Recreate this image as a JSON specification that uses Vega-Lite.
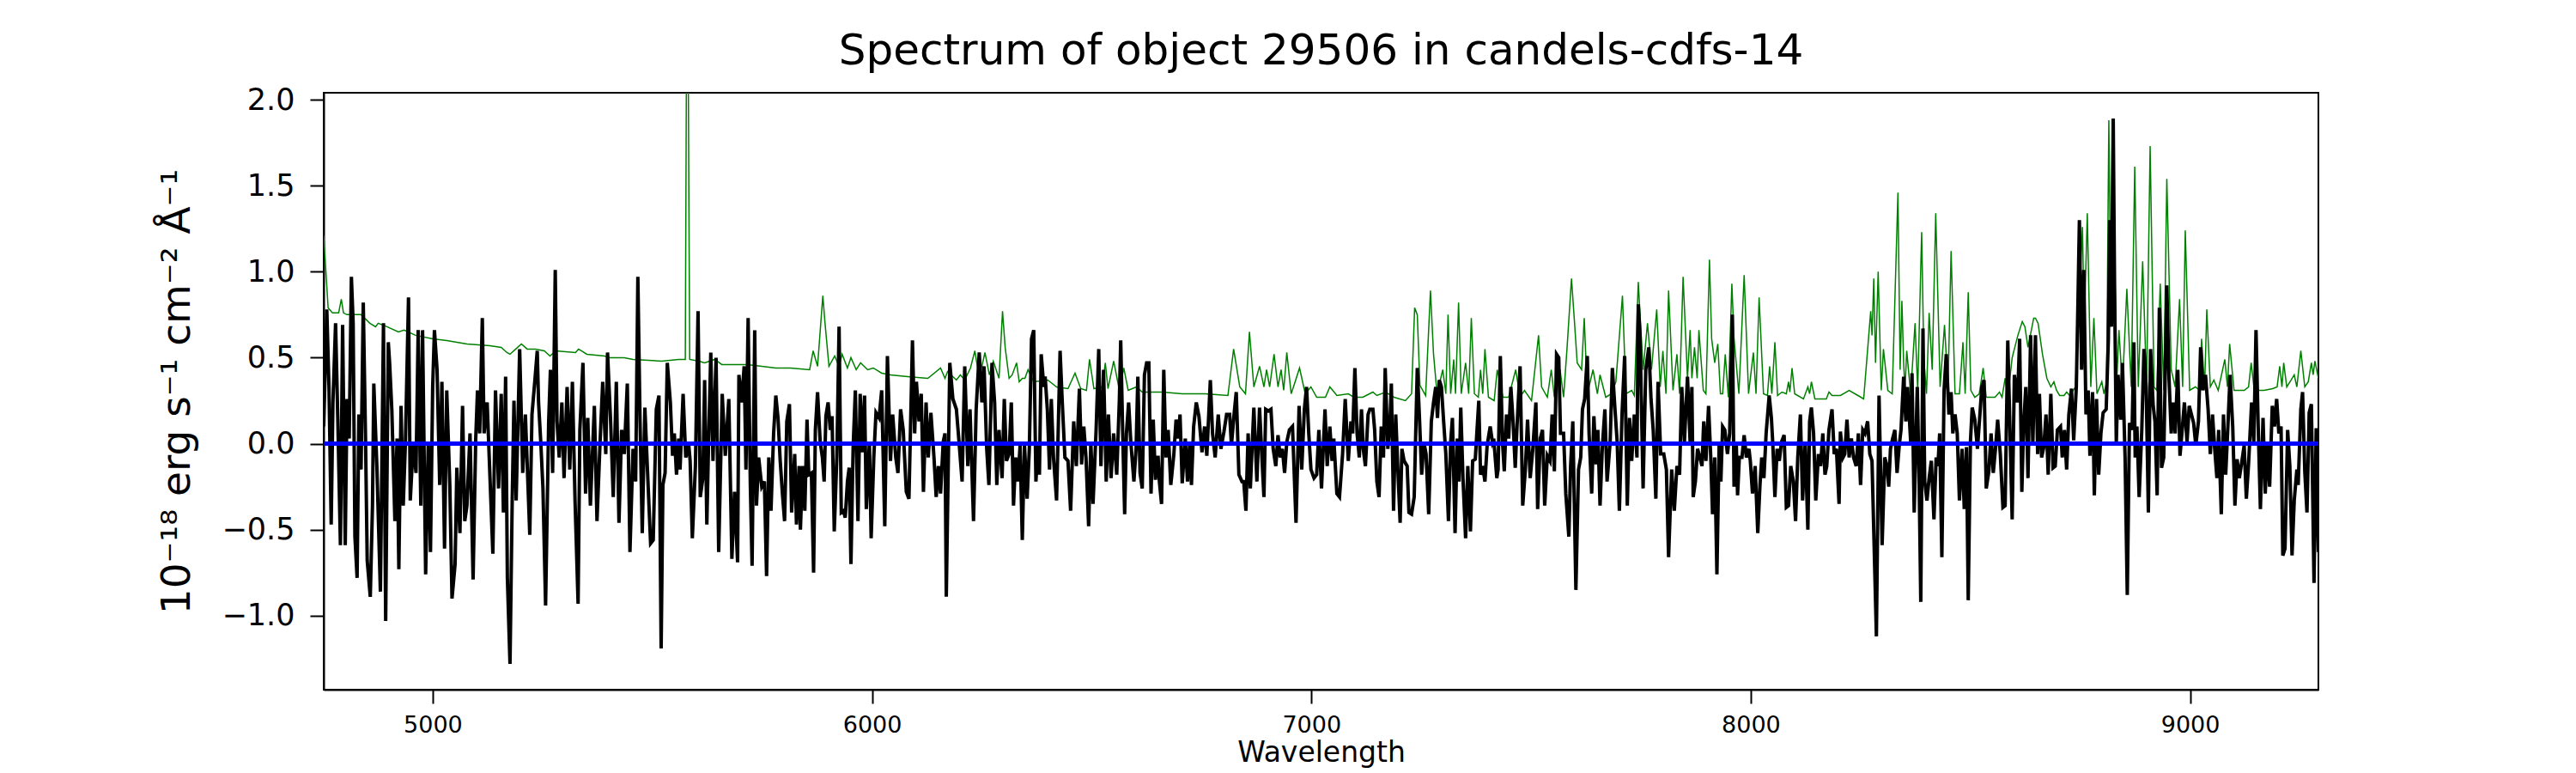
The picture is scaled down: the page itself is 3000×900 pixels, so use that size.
{
  "$schema": "https://vega.github.io/schema/vega-lite/v6.json",
  "description": "Spectrum of object 29506 in candels-cdfs-14: flux (black), sky/error (green), zero model (blue).",
  "width": 2323,
  "height": 695,
  "autosize": {"type": "none"},
  "padding": {"left": 377, "top": 108, "right": 300, "bottom": 97},
  "background": "white",
  "title": {
    "text": "Spectrum of object 29506 in candels-cdfs-14",
    "font": "DejaVu Sans",
    "fontSize": 50,
    "fontWeight": "normal",
    "color": "black",
    "offset": 14
  },
  "datasets": {
    "sky": [
      {"w":4752,"f":1.21},{"w":4762,"f":0.79},{"w":4772,"f":0.76},{"w":4786,"f":0.76},{"w":4792,"f":0.84},{"w":4797,"f":0.76},{"w":4805,"f":0.75},{"w":4837,"f":0.75},{"w":4857,"f":0.70},{"w":4870,"f":0.68},{"w":4876,"f":0.70},{"w":4896,"f":0.68},{"w":4922,"f":0.65},{"w":4935,"f":0.66},{"w":4961,"f":0.63},{"w":5000,"f":0.61},{"w":5032,"f":0.60},{"w":5078,"f":0.58},{"w":5130,"f":0.57},{"w":5156,"f":0.56},{"w":5169,"f":0.53},{"w":5176,"f":0.52},{"w":5189,"f":0.55},{"w":5202,"f":0.58},{"w":5215,"f":0.55},{"w":5234,"f":0.55},{"w":5254,"f":0.54},{"w":5267,"f":0.51},{"w":5280,"f":0.54},{"w":5325,"f":0.53},{"w":5332,"f":0.55},{"w":5351,"f":0.52},{"w":5391,"f":0.51},{"w":5404,"f":0.50},{"w":5436,"f":0.50},{"w":5456,"f":0.49},{"w":5521,"f":0.48},
      {"w":5560,"f":0.49},{"w":5575,"f":0.49},{"w":5578,"f":2.5},{"w":5581,"f":2.5},{"w":5585,"f":0.49},{"w":5606,"f":0.48},{"w":5619,"f":0.47},{"w":5642,"f":0.49},{"w":5658,"f":0.46},{"w":5716,"f":0.46},{"w":5749,"f":0.45},{"w":5781,"f":0.44},{"w":5814,"f":0.44},{"w":5858,"f":0.43},{"w":5866,"f":0.54},{"w":5876,"f":0.45},{"w":5888,"f":0.86},{"w":5893,"f":0.70},{"w":5902,"f":0.45},{"w":5915,"f":0.51},{"w":5925,"f":0.45},{"w":5932,"f":0.52},{"w":5944,"f":0.44},{"w":5952,"f":0.50},{"w":5964,"f":0.43},{"w":5974,"f":0.47},{"w":5990,"f":0.43},{"w":6003,"f":0.44},{"w":6022,"f":0.41},{"w":6042,"f":0.40},{"w":6081,"f":0.39},{"w":6127,"f":0.38},{"w":6156,"f":0.44},{"w":6166,"f":0.38},{"w":6172,"f":0.42},{"w":6192,"f":0.37},{"w":6201,"f":0.40},{"w":6211,"f":0.37},{"w":6224,"f":0.44},{"w":6234,"f":0.54},{"w":6244,"f":0.38},{"w":6257,"f":0.53},{"w":6267,"f":0.40},{"w":6276,"f":0.48},{"w":6289,"f":0.38},{"w":6297,"f":0.77},
      {"w":6303,"f":0.56},{"w":6312,"f":0.38},{"w":6319,"f":0.40},{"w":6329,"f":0.47},{"w":6335,"f":0.36},{"w":6342,"f":0.38},{"w":6348,"f":0.38},{"w":6355,"f":0.43},{"w":6368,"f":0.36},{"w":6400,"f":0.37},{"w":6420,"f":0.33},{"w":6446,"f":0.32},{"w":6462,"f":0.41},{"w":6475,"f":0.32},{"w":6488,"f":0.31},{"w":6495,"f":0.49},{"w":6505,"f":0.32},{"w":6524,"f":0.33},{"w":6531,"f":0.47},{"w":6537,"f":0.32},{"w":6550,"f":0.48},{"w":6563,"f":0.31},{"w":6573,"f":0.44},{"w":6583,"f":0.31},{"w":6602,"f":0.33},{"w":6615,"f":0.30},{"w":6661,"f":0.30},{"w":6706,"f":0.29},{"w":6758,"f":0.29},{"w":6810,"f":0.28},{"w":6823,"f":0.55},{"w":6837,"f":0.33},{"w":6850,"f":0.29},{"w":6859,"f":0.65},{"w":6869,"f":0.33},{"w":6882,"f":0.45},{"w":6892,"f":0.33},{"w":6898,"f":0.43},{"w":6905,"f":0.33},{"w":6915,"f":0.52},{"w":6924,"f":0.33},{"w":6931,"f":0.43},{"w":6937,"f":0.31},{"w":6944,"f":0.53},{"w":6954,"f":0.29},{"w":6963,"f":0.36},{"w":6973,"f":0.44},{"w":6986,"f":0.29},{"w":6999,"f":0.33},{"w":7012,"f":0.27},{"w":7032,"f":0.27},{"w":7042,"f":0.33},{"w":7058,"f":0.28},{"w":7084,"f":0.29},
      {"w":7097,"f":0.27},{"w":7117,"f":0.27},{"w":7140,"f":0.30},{"w":7149,"f":0.28},{"w":7169,"f":0.30},{"w":7188,"f":0.27},{"w":7214,"f":0.25},{"w":7228,"f":0.29},{"w":7235,"f":0.79},{"w":7241,"f":0.75},{"w":7247,"f":0.34},{"w":7260,"f":0.28},{"w":7271,"f":0.89},{"w":7278,"f":0.52},{"w":7286,"f":0.29},{"w":7299,"f":0.43},{"w":7306,"f":0.29},{"w":7311,"f":0.75},{"w":7317,"f":0.29},{"w":7324,"f":0.49},{"w":7328,"f":0.29},{"w":7335,"f":0.82},{"w":7341,"f":0.29},{"w":7351,"f":0.47},{"w":7358,"f":0.29},{"w":7364,"f":0.73},{"w":7371,"f":0.29},{"w":7380,"f":0.27},{"w":7385,"f":0.43},{"w":7390,"f":0.29},{"w":7395,"f":0.55},{"w":7403,"f":0.27},{"w":7416,"f":0.25},{"w":7423,"f":0.43},{"w":7436,"f":0.27},{"w":7449,"f":0.27},{"w":7465,"f":0.43},{"w":7475,"f":0.27},{"w":7485,"f":0.31},{"w":7501,"f":0.25},{"w":7517,"f":0.63},{"w":7524,"f":0.33},{"w":7537,"f":0.27},{"w":7546,"f":0.43},{"w":7553,"f":0.27},{"w":7566,"f":0.43},{"w":7574,"f":0.27},{"w":7582,"f":0.56},{"w":7592,"f":0.96},{"w":7599,"f":0.70},{"w":7605,"f":0.47},{"w":7615,"f":0.43},{"w":7621,"f":0.73},{"w":7628,"f":0.29},{"w":7641,"f":0.43},{"w":7651,"f":0.29},{"w":7657,"f":0.40},{"w":7670,"f":0.27},{"w":7683,"f":0.29},{"w":7693,"f":0.36},{"w":7708,"f":0.86},{"w":7716,"f":0.29},{"w":7729,"f":0.31},{"w":7735,"f":0.28},{"w":7744,"f":0.94},{"w":7755,"f":0.43},{"w":7765,"f":0.70},{"w":7774,"f":0.43},{"w":7786,"f":0.78},{"w":7794,"f":0.33},{"w":7800,"f":0.54},{"w":7807,"f":0.29},{"w":7813,"f":0.89},{"w":7823,"f":0.31},{"w":7832,"f":0.52},{"w":7838,"f":0.29},{"w":7846,"f":0.97},{"w":7856,"f":0.38},{"w":7862,"f":0.66},
      {"w":7866,"f":0.38},{"w":7872,"f":0.56},{"w":7878,"f":0.38},{"w":7882,"f":0.66},{"w":7892,"f":0.31},{"w":7898,"f":0.29},{"w":7906,"f":1.07},{"w":7911,"f":0.61},{"w":7918,"f":0.47},{"w":7925,"f":0.58},{"w":7931,"f":0.29},{"w":7936,"f":0.29},{"w":7942,"f":0.52},{"w":7949,"f":0.27},{"w":7957,"f":0.93},{"w":7962,"f":0.61},{"w":7973,"f":0.29},{"w":7985,"f":0.98},{"w":7995,"f":0.29},{"w":8006,"f":0.53},{"w":8012,"f":0.29},{"w":8019,"f":0.85},{"w":8029,"f":0.29},{"w":8038,"f":0.28},{"w":8043,"f":0.45},{"w":8048,"f":0.29},{"w":8055,"f":0.59},{"w":8061,"f":0.28},{"w":8071,"f":0.30},{"w":8081,"f":0.29},{"w":8086,"f":0.36},{"w":8089,"f":0.30},{"w":8094,"f":0.44},{"w":8100,"f":0.29},{"w":8120,"f":0.26},{"w":8130,"f":0.33},{"w":8134,"f":0.29},{"w":8138,"f":0.36},{"w":8146,"f":0.26},{"w":8172,"f":0.26},{"w":8178,"f":0.30},{"w":8185,"f":0.28},{"w":8204,"f":0.28},{"w":8224,"f":0.31},{"w":8244,"f":0.28},{"w":8257,"f":0.26},{"w":8273,"f":0.77},{"w":8276,"f":0.63},{"w":8280,"f":0.96},{"w":8284,"f":0.47},{"w":8290,"f":1.00},{"w":8297,"f":0.31},{"w":8302,"f":0.55},{"w":8312,"f":0.31},{"w":8322,"f":0.29},{"w":8335,"f":1.46},{"w":8340,"f":0.43},{"w":8344,"f":0.83},{"w":8348,"f":0.47},{"w":8351,"f":0.31},{"w":8355,"f":0.54},{"w":8364,"f":0.29},{"w":8374,"f":0.70},{"w":8380,"f":0.31},{"w":8389,"f":1.23},{"w":8394,"f":0.49},{"w":8400,"f":0.29},{"w":8406,"f":0.76},{"w":8413,"f":0.43},{"w":8421,"f":1.34},{"w":8431,"f":0.33},{"w":8441,"f":0.69},{"w":8449,"f":0.33},{"w":8456,"f":1.12},{"w":8465,"f":0.29},{"w":8475,"f":0.29},{"w":8483,"f":0.59},{"w":8488,"f":0.29},{"w":8495,"f":0.88},{"w":8501,"f":0.31},{"w":8510,"f":0.27},{"w":8520,"f":0.29},{"w":8529,"f":0.44},{"w":8536,"f":0.27},{"w":8556,"f":0.27},{"w":8566,"f":0.30},{"w":8572,"f":0.27},{"w":8579,"f":0.38},{"w":8585,"f":0.27},{"w":8595,"f":0.50},{"w":8608,"f":0.63},{"w":8618,"f":0.71},{"w":8624,"f":0.68},{"w":8631,"f":0.56},{"w":8644,"f":0.73},
      {"w":8648,"f":0.73},{"w":8654,"f":0.70},{"w":8664,"f":0.52},{"w":8674,"f":0.38},{"w":8683,"f":0.33},{"w":8690,"f":0.36},{"w":8696,"f":0.31},{"w":8703,"f":0.28},{"w":8713,"f":0.28},{"w":8719,"f":0.30},{"w":8726,"f":0.28},{"w":8739,"f":0.33},{"w":8755,"f":1.26},{"w":8759,"f":0.66},{"w":8766,"f":1.34},{"w":8774,"f":0.33},{"w":8781,"f":0.73},{"w":8788,"f":0.29},{"w":8799,"f":0.36},{"w":8804,"f":0.29},{"w":8810,"f":0.36},{"w":8815,"f":1.88},{"w":8819,"f":0.87},{"w":8823,"f":1.88},{"w":8833,"f":0.36},{"w":8838,"f":0.66},{"w":8846,"f":0.33},{"w":8856,"f":0.90},{"w":8866,"f":0.33},{"w":8874,"f":1.61},{"w":8882,"f":0.33},{"w":8892,"f":1.06},{"w":8901,"f":0.33},{"w":8909,"f":1.73},{"w":8918,"f":0.33},{"w":8924,"f":0.31},{"w":8932,"f":0.93},{"w":8940,"f":0.31},{"w":8947,"f":1.54},{"w":8957,"f":0.43},{"w":8966,"f":0.33},{"w":8976,"f":0.84},{"w":8983,"f":0.33},{"w":8989,"f":1.24},{"w":8999,"f":0.31},{"w":9012,"f":0.33},{"w":9022,"f":0.31},{"w":9026,"f":0.61},{"w":9033,"f":0.33},{"w":9038,"f":0.78},{"w":9046,"f":0.33},{"w":9054,"f":0.37},{"w":9064,"f":0.31},{"w":9079,"f":0.49},{"w":9085,"f":0.33},{"w":9090,"f":0.58},{"w":9100,"f":0.31},{"w":9123,"f":0.31},{"w":9133,"f":0.33},{"w":9139,"f":0.47},{"w":9146,"f":0.31},{"w":9168,"f":0.31},{"w":9188,"f":0.32},{"w":9198,"f":0.33},{"w":9204,"f":0.45},{"w":9209,"f":0.33},{"w":9213,"f":0.47},{"w":9220,"f":0.33},{"w":9230,"f":0.37},{"w":9237,"f":0.40},{"w":9243,"f":0.33},{"w":9252,"f":0.54},{"w":9261,"f":0.33},{"w":9269,"f":0.36},{"w":9276,"f":0.47},{"w":9280,"f":0.40},{"w":9284,"f":0.48},{"w":9292,"f":0.38}
    ],
    "flux": [
      {"w":4752,"f":0.10},{"w":4759,"f":0.78},{"w":4764,"f":0.33},{"w":4769,"f":-0.47},{"w":4773,"f":0.24},{"w":4779,"f":0.70},{"w":4784,"f":0.15},{"w":4790,"f":-0.59},{"w":4795,"f":0.69},{"w":4801,"f":-0.59},{"w":4805,"f":0.26},{"w":4810,"f":0.03},{"w":4815,"f":0.97},{"w":4819,"f":0.70},{"w":4823,"f":-0.54},{"w":4828,"f":-0.78},{"w":4832,"f":0.17},{"w":4837,"f":-0.15},{"w":4842,"f":0.82},{"w":4847,"f":0.06},{"w":4851,"f":-0.68},{"w":4858,"f":-0.89},{"w":4863,"f":-0.36},{"w":4866,"f":0.35},{"w":4873,"f":-0.13},{"w":4881,"f":-0.86},{"w":4888,"f":0.70},{"w":4893,"f":-1.03},{"w":4899,"f":0.59},{"w":4902,"f":0.47},{"w":4907,"f":0.20},{"w":4914,"f":-0.45},{"w":4919,"f":0.03},{"w":4923,"f":-0.73},{"w":4928,"f":0.22},{"w":4933,"f":-0.36},{"w":4938,"f":0.01},{"w":4945,"f":0.85},{"w":4949,"f":-0.33},{"w":4956,"f":0.01},{"w":4962,"f":-0.17},{"w":4967,"f":0.66},{"w":4973,"f":-0.36},{"w":4977,"f":0.66},{"w":4984,"f":-0.76},{"w":4990,"f":0.01},{"w":4995,"f":-0.63},{"w":5000,"f":0.33},{"w":5004,"f":0.66},{"w":5010,"f":0.43},{"w":5016,"f":-0.24},{"w":5021,"f":0.36},{"w":5027,"f":-0.61},{"w":5032,"f":0.31},{"w":5039,"f":-0.24},{"w":5044,"f":-0.90},{"w":5051,"f":-0.70},{"w":5055,"f":-0.14},{"w":5062,"f":-0.52},{"w":5068,"f":0.22},{"w":5073,"f":-0.45},{"w":5078,"f":-0.36},{"w":5085,"f":0.06},{"w":5092,"f":-0.79},{"w":5098,"f":0.03},{"w":5102,"f":0.31},{"w":5107,"f":0.06},{"w":5113,"f":0.73},{"w":5117,"f":0.06},{"w":5124,"f":0.24},{"w":5129,"f":-0.10},{"w":5137,"f":-0.64},{"w":5143,"f":0.31},{"w":5150,"f":-0.26},{"w":5156,"f":0.29},{"w":5161,"f":-0.40},{"w":5166,"f":0.39},{"w":5170,"f":-0.78},{"w":5176,"f":-1.28},{"w":5181,"f":-0.33},{"w":5185,"f":0.25},{"w":5190,"f":-0.33},{"w":5198,"f":0.55},{"w":5205,"f":-0.17},{"w":5211,"f":0.17},{"w":5221,"f":-0.53},{"w":5226,"f":0.17},{"w":5233,"f":0.38},{"w":5238,"f":0.54},{"w":5241,"f":0.24},{"w":5246,"f":0.01},{"w":5251,"f":-0.26},{"w":5257,"f":-0.94},{"w":5264,"f":0.13},{"w":5268,"f":0.43},{"w":5273,"f":-0.17},{"w":5279,"f":1.01},{"w":5283,"f":0.13},{"w":5288,"f":-0.08},{"w":5294,"f":0.24},{"w":5299,"f":-0.20},{"w":5306,"f":0.33},{"w":5312,"f":-0.15},{"w":5318,"f":0.36},{"w":5324,"f":-0.33},{"w":5331,"f":-0.93},{"w":5335,"f":0.08},{"w":5342,"f":0.47},{"w":5348,"f":-0.29},{"w":5353,"f":0.15},{"w":5359,"f":-0.36},{"w":5368,"f":0.22},{"w":5374,"f":-0.45},{"w":5381,"f":0.01},{"w":5387,"f":0.36},{"w":5394,"f":-0.06},{"w":5398,"f":0.53},{"w":5405,"f":0.13},{"w":5411,"f":-0.31},{"w":5418,"f":0.36},{"w":5424,"f":-0.46},{"w":5430,"f":0.08},{"w":5436,"f":-0.06},{"w":5443,"f":0.35},{"w":5449,"f":-0.63},{"w":5456,"f":-0.03},{"w":5462,"f":-0.22},{"w":5467,"f":0.97},{"w":5472,"f":0.13},{"w":5477,"f":-0.52},{"w":5483,"f":0.21},{"w":5488,"f":-0.10},{"w":5496,"f":-0.58},{"w":5502,"f":-0.56},{"w":5509,"f":0.20},{"w":5515,"f":0.28},{"w":5520,"f":-1.19},
      {"w":5524,"f":-0.24},{"w":5529,"f":-0.17},{"w":5534,"f":0.47},{"w":5541,"f":0.24},{"w":5546,"f":-0.07},{"w":5550,"f":0.06},{"w":5555,"f":-0.18},{"w":5560,"f":0.03},{"w":5563,"f":-0.15},{"w":5570,"f":0.29},{"w":5576,"f":-0.08},{"w":5583,"f":-0.01},{"w":5586,"f":-0.10},{"w":5591,"f":-0.55},{"w":5598,"f":-0.13},{"w":5604,"f":0.77},{"w":5609,"f":-0.31},{"w":5615,"f":-0.20},{"w":5619,"f":0.37},{"w":5624,"f":-0.47},{"w":5628,"f":0.01},{"w":5633,"f":0.53},{"w":5638,"f":-0.10},{"w":5645,"f":0.50},{"w":5651,"f":-0.63},{"w":5659,"f":0.29},{"w":5666,"f":-0.07},{"w":5674,"f":0.26},{"w":5681,"f":-0.67},{"w":5687,"f":-0.28},{"w":5694,"f":-0.69},{"w":5697,"f":0.40},{"w":5703,"f":0.24},{"w":5709,"f":0.45},{"w":5713,"f":-0.15},{"w":5718,"f":0.73},{"w":5723,"f":-0.24},{"w":5727,"f":-0.71},{"w":5733,"f":0.66},{"w":5737,"f":-0.36},{"w":5742,"f":-0.08},{"w":5749,"f":-0.25},{"w":5755,"f":-0.22},{"w":5760,"f":-0.77},{"w":5765,"f":-0.08},{"w":5770,"f":-0.39},{"w":5776,"f":0.06},{"w":5781,"f":0.28},{"w":5786,"f":0.15},{"w":5791,"f":-0.10},{"w":5796,"f":-0.29},{"w":5801,"f":-0.45},{"w":5806,"f":0.13},{"w":5812,"f":0.23},{"w":5817,"f":-0.40},{"w":5824,"f":-0.06},{"w":5828,"f":-0.47},{"w":5834,"f":-0.13},{"w":5837,"f":-0.50},{"w":5842,"f":-0.13},{"w":5847,"f":-0.39},{"w":5852,"f":0.14},{"w":5856,"f":-0.18},{"w":5862,"f":-0.17},{"w":5867,"f":-0.75},{"w":5871,"f":0.08},{"w":5876,"f":0.30},{"w":5882,"f":0.01},{"w":5887,"f":-0.08},{"w":5891,"f":-0.22},{"w":5895,"f":0.16},{"w":5900,"f":0.24},{"w":5905,"f":0.08},{"w":5909,"f":0.16},{"w":5914,"f":-0.51},{"w":5920,"f":-0.07},{"w":5925,"f":0.68},{"w":5930,"f":-0.40},{"w":5935,"f":-0.39},{"w":5939,"f":-0.43},{"w":5944,"f":-0.22},{"w":5948,"f":-0.14},{"w":5952,"f":-0.70},{"w":5957,"f":-0.02},{"w":5962,"f":0.31},{"w":5968,"f":-0.45},{"w":5973,"f":0.29},{"w":5978,"f":-0.05},{"w":5983,"f":0.28},{"w":5987,"f":-0.38},{"w":5994,"f":0.01},{"w":5998,"f":-0.55},{"w":6004,"f":-0.08},{"w":6009,"f":0.18},{"w":6016,"f":0.15},{"w":6022,"f":0.31},{"w":6029,"f":-0.48},{"w":6035,"f":0.51},{"w":6042,"f":-0.10},{"w":6047,"f":0.17},{"w":6054,"f":-0.08},{"w":6059,"f":-0.17},{"w":6065,"f":0.20},{"w":6071,"f":0.08},{"w":6078,"f":-0.28},{"w":6084,"f":-0.32},{"w":6092,"f":0.60},{"w":6097,"f":0.06},{"w":6101,"f":0.36},{"w":6107,"f":0.13},{"w":6112,"f":0.29},{"w":6117,"f":-0.28},{"w":6123,"f":0.24},{"w":6128,"f":-0.08},{"w":6134,"f":0.18},{"w":6141,"f":-0.08},{"w":6146,"f":-0.31},{"w":6151,"f":-0.13},{"w":6156,"f":-0.29},{"w":6162,"f":0.01},{"w":6166,"f":0.06},{"w":6169,"f":-0.89},{"w":6177,"f":0.47},{"w":6184,"f":0.26},{"w":6192,"f":0.20},{"w":6198,"f":0.01},{"w":6205,"f":-0.22},{"w":6211,"f":0.45},{"w":6218,"f":-0.13},{"w":6223,"f":0.20},{"w":6231,"f":-0.45},{"w":6237,"f":0.20},{"w":6244,"f":0.53},{"w":6250,"f":0.24},{"w":6255,"f":0.45},{"w":6261,"f":-0.03},{"w":6266,"f":-0.24},{"w":6273,"f":0.47},{"w":6279,"f":0.24},{"w":6284,"f":-0.24},{"w":6289,"f":0.08},{"w":6296,"f":-0.20},{"w":6301,"f":0.26},
      {"w":6306,"f":-0.10},{"w":6312,"f":-0.06},{"w":6317,"f":0.24},{"w":6322,"f":-0.36},{"w":6327,"f":-0.08},{"w":6332,"f":-0.22},{"w":6337,"f":-0.01},{"w":6342,"f":-0.56},{"w":6347,"f":-0.01},{"w":6353,"f":-0.32},{"w":6358,"f":-0.03},{"w":6363,"f":0.61},{"w":6368,"f":0.66},{"w":6373,"f":-0.22},{"w":6378,"f":0.01},{"w":6381,"f":-0.18},{"w":6385,"f":0.52},{"w":6391,"f":0.33},{"w":6394,"f":0.39},{"w":6399,"f":0.20},{"w":6404,"f":-0.15},{"w":6408,"f":0.26},{"w":6413,"f":-0.08},{"w":6420,"f":-0.33},{"w":6428,"f":0.54},{"w":6433,"f":0.24},{"w":6439,"f":-0.08},{"w":6446,"f":-0.10},{"w":6452,"f":-0.39},{"w":6459,"f":0.13},{"w":6465,"f":-0.13},{"w":6472,"f":0.32},{"w":6477,"f":-0.12},{"w":6482,"f":0.10},{"w":6487,"f":-0.08},{"w":6493,"f":-0.48},{"w":6498,"f":0.01},{"w":6503,"f":-0.35},{"w":6510,"f":0.08},{"w":6516,"f":0.55},{"w":6521,"f":-0.13},{"w":6527,"f":0.43},{"w":6533,"f":-0.22},{"w":6538,"f":0.17},{"w":6544,"f":-0.20},{"w":6550,"f":0.06},{"w":6557,"f":-0.18},{"w":6563,"f":0.26},{"w":6566,"f":0.60},{"w":6571,"f":0.01},{"w":6575,"f":-0.41},{"w":6579,"f":0.06},{"w":6584,"f":0.24},{"w":6589,"f":0.01},{"w":6596,"f":-0.22},{"w":6601,"f":-0.03},{"w":6605,"f":0.39},{"w":6610,"f":-0.17},{"w":6615,"f":-0.26},{"w":6620,"f":0.40},{"w":6625,"f":0.47},{"w":6630,"f":0.47},{"w":6635,"f":-0.29},{"w":6640,"f":0.14},{"w":6645,"f":-0.21},{"w":6651,"f":-0.07},{"w":6654,"f":-0.22},{"w":6659,"f":-0.35},{"w":6664,"f":0.43},{"w":6669,"f":-0.08},{"w":6674,"f":0.08},{"w":6680,"f":-0.24},{"w":6687,"f":-0.06},{"w":6692,"f":0.14},{"w":6697,"f":0.03},{"w":6701,"f":0.17},{"w":6706,"f":-0.23},{"w":6713,"f":0.03},{"w":6718,"f":-0.22},{"w":6723,"f":0.00},{"w":6727,"f":-0.24},{"w":6732,"f":0.10},{"w":6738,"f":0.24},{"w":6744,"f":0.16},{"w":6751,"f":-0.05},{"w":6757,"f":0.10},{"w":6762,"f":-0.07},{"w":6770,"f":0.37},{"w":6775,"f":0.06},{"w":6781,"f":-0.08},{"w":6788,"f":0.17},{"w":6794,"f":-0.03},{"w":6801,"f":0.07},{"w":6807,"f":0.17},{"w":6814,"f":0.17},{"w":6818,"f":-0.01},{"w":6824,"f":0.17},{"w":6829,"f":0.30},{"w":6835,"f":-0.18},{"w":6842,"f":-0.22},{"w":6846,"f":-0.22},{"w":6851,"f":-0.39},{"w":6856,"f":0.06},{"w":6861,"f":-0.26},{"w":6869,"f":0.21},{"w":6876,"f":-0.22},{"w":6882,"f":0.21},{"w":6887,"f":-0.06},{"w":6892,"f":-0.31},{"w":6896,"f":0.20},{"w":6902,"f":0.19},{"w":6908,"f":0.20},{"w":6913,"f":-0.03},{"w":6919,"f":-0.13},{"w":6924,"f":0.05},{"w":6929,"f":-0.08},{"w":6934,"f":-0.03},{"w":6939,"f":-0.17},{"w":6944,"f":0.01},{"w":6950,"f":0.08},{"w":6957,"f":0.10},{"w":6965,"f":-0.46},{"w":6972,"f":0.22},{"w":6978,"f":-0.15},{"w":6984,"f":0.20},{"w":6989,"f":0.33},{"w":6994,"f":0.06},{"w":6999,"f":-0.15},{"w":7006,"f":-0.20},{"w":7012,"f":-0.18},{"w":7017,"f":0.08},{"w":7023,"f":-0.26},{"w":7031,"f":0.20},{"w":7036,"f":-0.13},{"w":7042,"f":0.10},{"w":7047,"f":-0.10},{"w":7051,"f":0.03},{"w":7058,"f":-0.29},{"w":7064,"f":-0.31},{"w":7071,"f":-0.06},{"w":7077,"f":0.26},
      {"w":7084,"f":-0.10},{"w":7090,"f":0.13},{"w":7094,"f":0.06},{"w":7099,"f":0.44},{"w":7104,"f":0.06},{"w":7109,"f":-0.08},{"w":7114,"f":0.20},{"w":7118,"f":-0.03},{"w":7123,"f":-0.13},{"w":7129,"f":0.17},{"w":7133,"f":0.20},{"w":7140,"f":0.20},{"w":7144,"f":0.08},{"w":7149,"f":-0.22},{"w":7154,"f":-0.31},{"w":7159,"f":0.10},{"w":7164,"f":-0.08},{"w":7168,"f":0.44},{"w":7174,"f":-0.03},{"w":7179,"f":0.13},{"w":7182,"f":0.35},{"w":7187,"f":-0.39},{"w":7192,"f":0.17},{"w":7196,"f":-0.10},{"w":7202,"f":-0.46},{"w":7206,"f":-0.03},{"w":7211,"f":-0.10},{"w":7218,"f":-0.13},{"w":7222,"f":-0.40},{"w":7228,"f":-0.41},{"w":7234,"f":-0.31},{"w":7241,"f":0.44},{"w":7246,"f":0.15},{"w":7251,"f":-0.18},{"w":7256,"f":0.01},{"w":7261,"f":-0.06},{"w":7267,"f":-0.41},{"w":7273,"f":0.13},{"w":7278,"f":0.24},{"w":7283,"f":0.33},{"w":7287,"f":0.15},{"w":7291,"f":0.37},{"w":7296,"f":0.33},{"w":7301,"f":0.13},{"w":7306,"f":-0.06},{"w":7312,"f":-0.45},{"w":7317,"f":0.01},{"w":7321,"f":0.15},{"w":7327,"f":-0.52},{"w":7332,"f":0.03},{"w":7336,"f":-0.22},{"w":7340,"f":0.21},{"w":7345,"f":-0.20},{"w":7351,"f":-0.55},{"w":7356,"f":-0.13},{"w":7362,"f":-0.51},{"w":7367,"f":-0.10},{"w":7373,"f":-0.09},{"w":7381,"f":0.25},{"w":7385,"f":-0.18},{"w":7390,"f":-0.13},{"w":7395,"f":-0.22},{"w":7400,"f":-0.01},{"w":7407,"f":0.10},{"w":7412,"f":0.01},{"w":7415,"f":0.03},{"w":7422,"f":-0.20},{"w":7425,"f":-0.15},{"w":7430,"f":0.51},{"w":7435,"f":0.01},{"w":7439,"f":-0.16},{"w":7444,"f":0.17},{"w":7449,"f":0.03},{"w":7454,"f":0.33},{"w":7459,"f":0.13},{"w":7464,"f":-0.14},{"w":7468,"f":0.10},{"w":7475,"f":0.45},{"w":7481,"f":-0.36},{"w":7487,"f":-0.15},{"w":7492,"f":0.14},{"w":7498,"f":-0.20},{"w":7504,"f":-0.03},{"w":7511,"f":0.24},{"w":7515,"f":-0.38},{"w":7521,"f":0.03},{"w":7526,"f":0.08},{"w":7531,"f":-0.36},{"w":7537,"f":-0.07},{"w":7543,"f":-0.10},{"w":7548,"f":0.17},{"w":7553,"f":-0.16},{"w":7558,"f":0.52},{"w":7563,"f":0.50},{"w":7567,"f":0.06},{"w":7574,"f":0.06},{"w":7579,"f":-0.29},{"w":7586,"f":-0.54},{"w":7590,"f":-0.13},{"w":7595,"f":0.13},{"w":7602,"f":-0.85},{"w":7608,"f":-0.15},{"w":7613,"f":-0.08},{"w":7617,"f":0.20},{"w":7622,"f":0.26},{"w":7628,"f":0.51},{"w":7632,"f":0.06},{"w":7638,"f":-0.29},{"w":7643,"f":0.16},{"w":7648,"f":-0.12},{"w":7652,"f":0.08},{"w":7657,"f":-0.36},{"w":7662,"f":-0.03},{"w":7668,"f":0.20},{"w":7673,"f":-0.22},{"w":7680,"f":0.01},{"w":7685,"f":0.44},{"w":7691,"f":0.20},{"w":7696,"f":0.01},{"w":7701,"f":-0.39},{"w":7707,"f":0.17},{"w":7713,"f":0.51},{"w":7719,"f":-0.36},{"w":7724,"f":0.15},{"w":7729,"f":-0.10},{"w":7735,"f":0.17},{"w":7741,"f":-0.08},{"w":7744,"f":0.81},{"w":7748,"f":0.63},{"w":7755,"f":-0.26},{"w":7761,"f":0.43},{"w":7768,"f":0.56},{"w":7773,"f":0.26},{"w":7778,"f":0.08},{"w":7784,"f":-0.32},{"w":7789,"f":0.36},{"w":7795,"f":-0.06},{"w":7802,"f":-0.06},{"w":7808,"f":-0.15},{"w":7813,"f":-0.66},{"w":7820,"f":-0.15},{"w":7826,"f":-0.39},{"w":7832,"f":-0.13},{"w":7838,"f":-0.18},{"w":7843,"f":0.33},{"w":7849,"f":0.01},{"w":7856,"f":0.39},{"w":7862,"f":0.01},
      {"w":7866,"f":0.33},{"w":7869,"f":-0.31},{"w":7874,"f":-0.22},{"w":7879,"f":-0.03},{"w":7884,"f":-0.08},{"w":7889,"f":-0.13},{"w":7893,"f":0.13},{"w":7898,"f":-0.10},{"w":7904,"f":0.22},{"w":7909,"f":-0.08},{"w":7913,"f":-0.41},{"w":7918,"f":-0.08},{"w":7923,"f":-0.76},{"w":7928,"f":-0.01},{"w":7932,"f":-0.22},{"w":7936,"f":0.10},{"w":7941,"f":0.08},{"w":7947,"f":-0.06},{"w":7952,"f":0.06},{"w":7958,"f":0.75},{"w":7962,"f":-0.25},{"w":7967,"f":0.01},{"w":7970,"f":-0.30},{"w":7974,"f":-0.08},{"w":7980,"f":-0.08},{"w":7985,"f":0.05},{"w":7990,"f":-0.08},{"w":7996,"f":-0.03},{"w":7999,"f":-0.10},{"w":8004,"f":-0.29},{"w":8010,"f":-0.13},{"w":8016,"f":-0.52},{"w":8021,"f":-0.24},{"w":8025,"f":-0.08},{"w":8030,"f":-0.20},{"w":8035,"f":0.06},{"w":8042,"f":0.28},{"w":8047,"f":0.15},{"w":8050,"f":0.01},{"w":8055,"f":-0.31},{"w":8060,"f":-0.03},{"w":8065,"f":-0.10},{"w":8070,"f":0.01},{"w":8076,"f":0.05},{"w":8081,"f":-0.37},{"w":8086,"f":-0.36},{"w":8091,"f":-0.13},{"w":8097,"f":-0.22},{"w":8102,"f":-0.45},{"w":8107,"f":-0.08},{"w":8113,"f":0.17},{"w":8118,"f":-0.33},{"w":8124,"f":0.01},{"w":8130,"f":-0.50},{"w":8134,"f":0.13},{"w":8138,"f":0.21},{"w":8143,"f":0.06},{"w":8148,"f":-0.33},{"w":8154,"f":-0.06},{"w":8159,"f":-0.13},{"w":8164,"f":0.06},{"w":8169,"f":-0.18},{"w":8173,"f":-0.13},{"w":8178,"f":0.08},{"w":8185,"f":0.20},{"w":8190,"f":-0.06},{"w":8195,"f":-0.03},{"w":8201,"f":-0.35},{"w":8204,"f":0.07},{"w":8210,"f":-0.08},{"w":8214,"f":-0.06},{"w":8219,"f":0.14},{"w":8224,"f":-0.08},{"w":8229,"f":0.03},{"w":8234,"f":-0.08},{"w":8240,"f":-0.13},{"w":8245,"f":0.06},{"w":8250,"f":-0.24},{"w":8255,"f":0.08},{"w":8260,"f":0.06},{"w":8266,"f":0.13},{"w":8271,"f":-0.06},{"w":8276,"f":-0.10},{"w":8286,"f":-1.12},{"w":8292,"f":0.28},{"w":8299,"f":-0.59},{"w":8305,"f":-0.08},{"w":8310,"f":-0.13},{"w":8314,"f":-0.25},{"w":8318,"f":-0.03},{"w":8323,"f":0.03},{"w":8328,"f":0.08},{"w":8333,"f":-0.17},{"w":8338,"f":-0.01},{"w":8342,"f":0.08},{"w":8348,"f":0.39},{"w":8353,"f":0.13},{"w":8357,"f":0.33},{"w":8364,"f":0.01},{"w":8367,"f":0.41},{"w":8372,"f":-0.40},{"w":8379,"f":0.33},{"w":8383,"f":-0.17},{"w":8387,"f":-0.92},{"w":8392,"f":0.67},{"w":8396,"f":-0.22},{"w":8401,"f":-0.33},{"w":8406,"f":-0.20},{"w":8411,"f":-0.10},{"w":8417,"f":-0.44},{"w":8422,"f":-0.08},{"w":8426,"f":-0.13},{"w":8430,"f":0.06},{"w":8435,"f":-0.66},{"w":8440,"f":0.31},{"w":8445,"f":0.52},{"w":8451,"f":0.17},{"w":8456,"f":0.30},{"w":8460,"f":0.06},{"w":8465,"f":0.17},{"w":8470,"f":0.06},{"w":8475,"f":-0.33},{"w":8481,"f":-0.03},{"w":8486,"f":-0.38},{"w":8491,"f":-0.02},{"w":8495,"f":-0.91},{"w":8500,"f":0.01},{"w":8504,"f":0.21},{"w":8510,"f":0.14},{"w":8516,"f":-0.03},{"w":8521,"f":0.15},{"w":8526,"f":0.33},{"w":8531,"f":0.37},{"w":8536,"f":-0.26},{"w":8542,"f":-0.16},{"w":8547,"f":0.06},{"w":8552,"f":-0.17},{"w":8557,"f":-0.03},{"w":8562,"f":0.14},{"w":8568,"f":-0.06},{"w":8574,"f":-0.37},{"w":8579,"f":-0.36},{"w":8585,"f":0.60},{"w":8590,"f":0.08},{"w":8595,"f":-0.44},{"w":8600,"f":0.40},{"w":8607,"f":0.24},{"w":8612,"f":0.61},{"w":8617,"f":-0.28},{"w":8621,"f":0.10},{"w":8626,"f":0.33},{"w":8631,"f":-0.20},{"w":8637,"f":0.63},{"w":8642,"f":-0.01},
      {"w":8648,"f":0.63},{"w":8653,"f":-0.06},{"w":8657,"f":0.29},{"w":8662,"f":-0.08},{"w":8667,"f":-0.02},{"w":8672,"f":0.17},{"w":8677,"f":-0.18},{"w":8683,"f":0.29},{"w":8688,"f":-0.14},{"w":8693,"f":-0.13},{"w":8698,"f":0.08},{"w":8705,"f":0.10},{"w":8709,"f":-0.08},{"w":8714,"f":0.08},{"w":8719,"f":-0.15},{"w":8724,"f":0.17},{"w":8730,"f":0.32},{"w":8735,"f":0.02},{"w":8741,"f":0.33},{"w":8745,"f":0.86},{"w":8748,"f":1.30},{"w":8753,"f":0.43},{"w":8758,"f":1.01},{"w":8763,"f":0.17},{"w":8768,"f":0.31},{"w":8772,"f":-0.07},{"w":8778,"f":0.30},{"w":8782,"f":-0.30},{"w":8787,"f":0.26},{"w":8792,"f":-0.18},{"w":8797,"f":0.06},{"w":8802,"f":0.18},{"w":8809,"f":0.20},{"w":8814,"f":0.61},{"w":8817,"f":1.30},{"w":8821,"f":0.68},{"w":8825,"f":1.89},{"w":8828,"f":0.93},{"w":8832,"f":0.00},{"w":8836,"f":0.40},{"w":8842,"f":0.14},{"w":8846,"f":0.47},{"w":8852,"f":-0.08},{"w":8857,"f":-0.88},{"w":8862,"f":0.12},{"w":8868,"f":0.08},{"w":8872,"f":0.59},{"w":8875,"f":-0.08},{"w":8879,"f":0.10},{"w":8884,"f":-0.31},{"w":8890,"f":0.08},{"w":8895,"f":0.55},{"w":8900,"f":0.33},{"w":8905,"f":-0.40},{"w":8910,"f":0.55},{"w":8916,"f":0.22},{"w":8920,"f":0.13},{"w":8925,"f":-0.30},{"w":8930,"f":0.79},{"w":8935,"f":-0.14},{"w":8940,"f":-0.08},{"w":8947,"f":0.92},{"w":8952,"f":0.38},{"w":8957,"f":0.06},{"w":8962,"f":0.24},{"w":8966,"f":0.06},{"w":8972,"f":0.43},{"w":8977,"f":-0.07},{"w":8982,"f":0.08},{"w":8987,"f":0.24},{"w":8993,"f":0.01},{"w":8998,"f":0.22},{"w":9003,"f":0.17},{"w":9008,"f":0.12},{"w":9013,"f":-0.01},{"w":9019,"f":0.13},{"w":9024,"f":0.56},{"w":9029,"f":0.31},{"w":9035,"f":0.40},{"w":9041,"f":0.20},{"w":9046,"f":-0.06},{"w":9051,"f":0.17},{"w":9056,"f":-0.03},{"w":9061,"f":-0.20},{"w":9065,"f":0.08},{"w":9071,"f":-0.41},{"w":9076,"f":0.17},{"w":9081,"f":-0.18},{"w":9086,"f":0.10},{"w":9091,"f":0.40},{"w":9097,"f":0.10},{"w":9102,"f":-0.36},{"w":9107,"f":-0.09},{"w":9112,"f":-0.20},{"w":9118,"f":-0.10},{"w":9123,"f":-0.01},{"w":9128,"f":-0.32},{"w":9133,"f":-0.12},{"w":9140,"f":0.24},{"w":9145,"f":0.01},{"w":9150,"f":0.66},{"w":9155,"f":0.10},{"w":9160,"f":-0.38},{"w":9166,"f":0.15},{"w":9171,"f":-0.29},{"w":9176,"f":0.01},{"w":9181,"f":-0.25},{"w":9187,"f":0.22},{"w":9192,"f":0.10},{"w":9197,"f":0.26},{"w":9202,"f":0.06},{"w":9207,"f":0.10},{"w":9211,"f":-0.65},{"w":9216,"f":-0.61},{"w":9222,"f":0.08},{"w":9227,"f":-0.13},{"w":9232,"f":-0.65},{"w":9237,"f":-0.33},{"w":9243,"f":-0.15},{"w":9246,"f":-0.24},{"w":9252,"f":0.20},{"w":9256,"f":0.30},{"w":9261,"f":-0.16},{"w":9266,"f":-0.40},{"w":9271,"f":0.18},{"w":9276,"f":0.23},{"w":9282,"f":-0.81},{"w":9287,"f":0.09},{"w":9292,"f":-0.63}
    ],
    "model": [
      {"w":4752,"f":0},{"w":9292,"f":0}
    ]
  },
  "encoding": {
    "x": {
      "field": "w",
      "type": "quantitative",
      "scale": {"domain": [4752, 9292], "nice": false, "zero": false},
      "axis": {
        "title": "Wavelength",
        "values": [5000, 6000, 7000, 8000, 9000],
        "format": "d",
        "grid": false,
        "domainColor": "black",
        "domainWidth": 2,
        "tickColor": "black",
        "tickWidth": 2,
        "tickSize": 16,
        "labelFont": "DejaVu Sans",
        "labelFontSize": 27,
        "labelColor": "black",
        "labelPadding": 12,
        "titleFont": "DejaVu Sans",
        "titleFontSize": 33,
        "titleFontWeight": "normal",
        "titleColor": "black",
        "titlePadding": 3
      }
    },
    "y": {
      "field": "f",
      "type": "quantitative",
      "scale": {"domain": [-1.43, 2.04], "nice": false, "zero": false},
      "axis": {
        "title": "10⁻¹⁸ erg s⁻¹ cm⁻² Å⁻¹",
        "values": [-1, -0.5, 0, 0.5, 1, 1.5, 2],
        "labelExpr": "replace(format(datum.value, '.1f'), '-', '−')",
        "grid": false,
        "domainColor": "black",
        "domainWidth": 2,
        "tickColor": "black",
        "tickWidth": 2,
        "tickSize": 16,
        "labelFont": "DejaVu Sans",
        "labelFontSize": 35,
        "labelColor": "black",
        "labelPadding": 18,
        "titleFont": "DejaVu Sans",
        "titleFontSize": 47,
        "titleFontWeight": "normal",
        "titleColor": "black",
        "titlePadding": 28
      }
    }
  },
  "layer": [
    {
      "data": {"name": "sky"},
      "mark": {"type": "line", "color": "#008000", "strokeWidth": 1.5, "clip": true}
    },
    {
      "data": {"name": "flux"},
      "mark": {"type": "line", "color": "black", "strokeWidth": 4, "clip": true}
    },
    {
      "data": {"name": "model"},
      "mark": {"type": "line", "color": "#0000ff", "strokeWidth": 5, "clip": true}
    }
  ],
  "config": {
    "view": {"stroke": "black", "strokeWidth": 2}
  }
}
